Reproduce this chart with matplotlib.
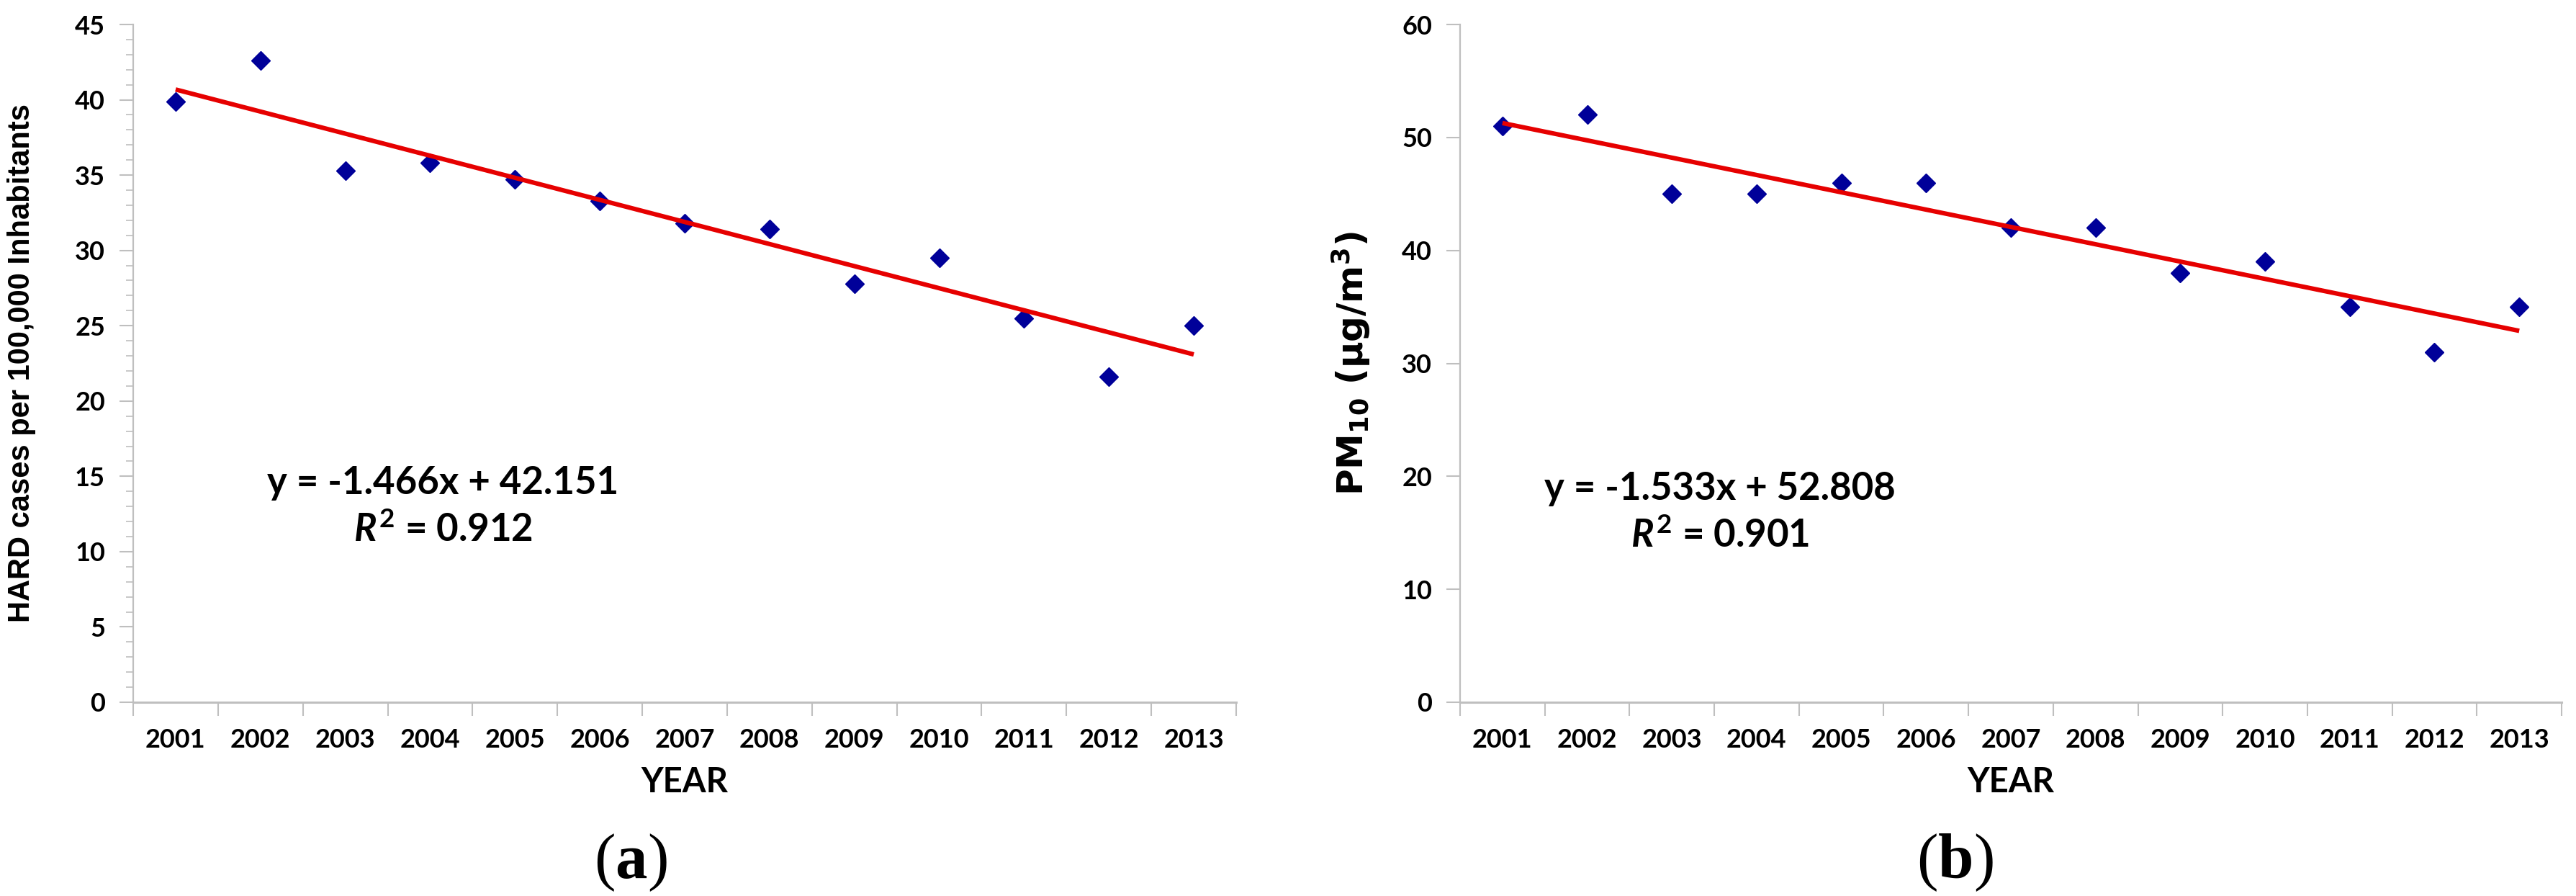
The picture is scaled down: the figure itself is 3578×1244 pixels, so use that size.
import matplotlib
matplotlib.use('Agg')
import matplotlib.pyplot as plt
from matplotlib.ticker import MultipleLocator, FixedLocator, NullLocator
import numpy as np

# ---------------- data ----------------
years = ['2001', '2002', '2003', '2004', '2005', '2006', '2007',
         '2008', '2009', '2010', '2011', '2012', '2013']
hard_cases = [39.9, 42.6, 35.3, 35.8, 34.7, 33.3, 31.8, 31.4, 27.8, 29.5, 25.5, 21.6, 25.0]
pm10 = [51, 52, 45, 45, 46, 46, 42, 42, 38, 39, 35, 31, 35]
hard_slope, hard_intercept, hard_r2 = -1.466, 42.151, 0.912
pm_slope, pm_intercept, pm_r2 = -1.533, 52.808, 0.901

# ---------------- style ----------------
plt.rcParams['mathtext.fontset'] = 'custom'
plt.rcParams['mathtext.it'] = 'Lato:italic:bold'
plt.rcParams['mathtext.rm'] = 'Lato:bold'
plt.rcParams['mathtext.sf'] = 'DejaVu Sans:bold'
plt.rcParams['mathtext.bf'] = 'Liberation Serif:bold'

W, H = 3578, 1244
DPI = 100
fig = plt.figure(figsize=(W / DPI, H / DPI), dpi=DPI)

spine_col = '#BFBFBF'
marker_col = '#000099'
line_col = '#E60000'
tick_font = dict(family='Lato', weight='bold', size=26)


def make_panel(rect, values, slope, intercept, r2, ymax, ymajor, yminor,
               ylabel, ylabel_font, ylabel_x, eq_xy, cap_x, cap_text):
    ax = fig.add_axes(rect)
    n = len(years)
    xs = np.arange(1, n + 1)
    ax.plot(xs, values, linestyle='none', marker='D', ms=13,
            color=marker_col, zorder=2, clip_on=False)
    xt = np.array([xs[0], xs[-1]])
    ax.plot(xt, slope * xt + intercept, color=line_col, lw=4.5,
            zorder=3, solid_capstyle='butt')

    ax.set_xlim(0.5, n + 0.5)
    ax.set_ylim(0, ymax)
    for s in ['top', 'right']:
        ax.spines[s].set_visible(False)
    ax.spines['left'].set_color(spine_col)
    ax.spines['left'].set_linewidth(1.6)
    ax.spines['bottom'].set_color(spine_col)
    ax.spines['bottom'].set_linewidth(2.2)

    # x: boundaries as major ticks, category labels on minor positions
    ax.xaxis.set_major_locator(FixedLocator(np.arange(0.5, n + 1.0, 1.0)))
    ax.set_xticklabels([''] * (n + 1))
    ax.set_xticks(xs, minor=True)
    ax.set_xticklabels(years, minor=True, fontdict=tick_font)
    ax.tick_params(axis='x', which='major', direction='out', length=14,
                   width=1.5, color=spine_col)
    ax.tick_params(axis='x', which='minor', length=0, pad=26)

    if yminor:
        ax.yaxis.set_minor_locator(MultipleLocator(yminor))
    else:
        ax.yaxis.set_minor_locator(NullLocator())
    yt = np.arange(0, ymax + 0.1, ymajor)
    ax.set_yticks(yt)
    ax.set_yticklabels([f'{int(v)}' for v in yt], fontdict=tick_font)
    ax.tick_params(axis='y', which='major', direction='out', length=14,
                   width=1.5, color=spine_col, pad=14)
    ax.tick_params(axis='y', which='minor', direction='out', length=7,
                   width=1.2, color=spine_col)

    ax.set_xlabel('YEAR', family='Lato', weight='bold', size=34)
    ax.xaxis.set_label_coords(0.5, -0.095)
    ax.set_ylabel(ylabel, **ylabel_font)
    ax.yaxis.set_label_coords(ylabel_x, 0.5)

    ax.text(eq_xy[0], eq_xy[1], f'y = {slope:.3f}x + {intercept:.3f}',
            transform=ax.transAxes, ha='center', va='baseline',
            family='Lato', weight='bold', size=38)
    ax.text(eq_xy[0], eq_xy[1] - 0.070, f'$R^2$ = {r2:.3f}',
            transform=ax.transAxes, ha='center', va='baseline',
            family='Lato', weight='bold', size=38)

    fig.text(cap_x / W, 1 - 1198 / H, cap_text, ha='center', va='center',
             family='Liberation Serif', size=64)
    return ax


y0 = 1 - 975 / H
hgt = (975 - 34) / H
make_panel([185 / W, y0, 1532 / W, hgt], hard_cases, hard_slope, hard_intercept,
           hard_r2, 45, 5, 1, 'HARD cases per 100,000 Inhabitants',
           dict(family='Liberation Sans', weight='bold', size=30), -0.088,
           (0.281, (975 - 686) / 941), 876, r'($\mathbf{a}$)')
make_panel([2028 / W, y0, 1530 / W, hgt], pm10, pm_slope, pm_intercept,
           pm_r2, 60, 10, None, r'PM$_\mathsf{10}$ (µg/m$^\mathsf{3}$)',
           dict(family='DejaVu Sans', weight='bold', size=36), -0.080,
           (0.236, (975 - 694) / 941), 2715, r'($\mathbf{b}$)')

fig.savefig('out.png', dpi=DPI, facecolor='white')
